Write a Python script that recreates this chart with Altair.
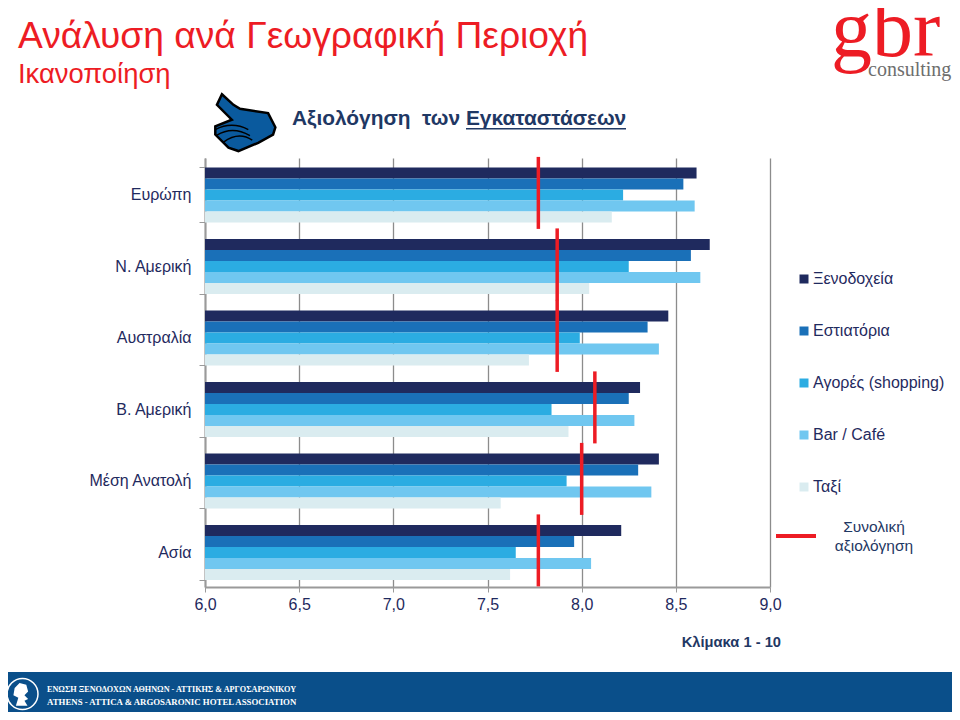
import altair as alt
import pandas as pd

regions = ["Ευρώπη", "Ν. Αμερική", "Αυστραλία", "Β. Αμερική", "Μέση Ανατολή", "Ασία"]
series = ["Ξενοδοχεία", "Εστιατόρια", "Αγορές (shopping)", "Bar / Café", "Ταξί"]
colors = ["#1F2A5E", "#1A70B8", "#2BACE2", "#70C7F0", "#DAECF0"]
hotels = [8.61, 8.68, 8.46, 8.31, 8.41, 8.21]
restaurants = [8.54, 8.58, 8.35, 8.25, 8.30, 7.96]
shopping = [8.22, 8.25, 7.99, 7.84, 7.92, 7.65]
bars = [8.60, 8.63, 8.41, 8.28, 8.37, 8.05]
taxi = [8.16, 8.04, 7.72, 7.93, 7.57, 7.62]
overall = [7.77, 7.87, 7.87, 8.07, 8.00, 7.77]

NAVY = "#1F2A5E"
RED = "#ED1C24"
FONT = "Liberation Sans"
LEFT, TOP, W, H = 205, 158, 565, 429


def X(v):
    return alt.value(v - LEFT)


def Y(v):
    return alt.value(v - TOP)


rows = []
for name, vals in zip(series, [hotels, restaurants, shopping, bars, taxi]):
    for r, v in zip(regions, vals):
        rows.append({"region": r, "series": name, "value": v})
bars_df = pd.DataFrame(rows)
over_df = pd.DataFrame({"region": regions, "value": overall})

x_scale = alt.Scale(domain=[6, 9], nice=False, zero=False)
y_scale = alt.Scale(domain=regions, paddingInner=0.23, paddingOuter=0.115, align=0.57)

bar_chart = alt.Chart(bars_df).mark_bar(size=11).encode(
    x=alt.X("value:Q", stack=None, scale=x_scale, axis=alt.Axis(
        values=[6, 6.5, 7, 7.5, 8, 8.5, 9],
        labelExpr="replace(format(datum.value, '.1f'), '.', ',')",
        labelFlush=False,
        grid=True, gridColor="#8C8C8C", gridWidth=1.3,
        domainColor="#9A9A9A", domainWidth=2, tickColor="#9A9A9A", tickSize=5,
        labelColor=NAVY, labelFont=FONT, labelFontSize=16, labelPadding=4, title=None)),
    x2=alt.X2(datum=6),
    y=alt.Y("region:N", sort=regions, scale=y_scale, axis=alt.Axis(
        tickBand="extent", tickColor="#9A9A9A", tickSize=6, domainColor="#9A9A9A", domainWidth=2,
        labelColor=NAVY, labelFont=FONT, labelFontSize=16, labelPadding=8, title=None, grid=False)),
    yOffset=alt.YOffset("series:N", sort=series, scale=alt.Scale(domain=series, paddingInner=0, paddingOuter=0)),
    color=alt.Color("series:N", sort=series, scale=alt.Scale(domain=series, range=colors), legend=alt.Legend(
        orient="none", legendX=591, legendY=113, padding=0, title=None, symbolType="square", symbolSize=81,
        symbolStrokeWidth=0, labelFont=FONT, labelFontSize=16, labelColor=NAVY, labelOffset=1,
        rowPadding=36, labelLimit=200)),
)

over_chart = alt.Chart(over_df).mark_tick(color=RED, thickness=3.5, size=72, opacity=1, yOffset=-2).encode(
    x=alt.X("value:Q", scale=x_scale),
    y=alt.Y("region:N", sort=regions, scale=y_scale),
)

one = alt.Data(values=[{"a": 1}])


def text(s, x, y, size, color=NAVY, font=FONT, weight="normal", align="left"):
    return alt.Chart(one).mark_text(text=s, font=font, fontSize=size, color=color, fontWeight=weight,
                                    align=align, baseline="alphabetic").encode(x=X(x), y=Y(y))


def rect(x1, x2, y1, y2, color):
    return alt.Chart(one).mark_rect(color=color).encode(x=X(x1), x2=X(x2), y=Y(y1), y2=Y(y2))


hand = ("M-0.70 -0.87 L-0.35 -0.55 L-0.15 -0.43 L0.70 -0.30 L0.92 0.13 L0.85 0.35 L0.40 0.60 "
        "L-0.20 0.85 L-0.50 0.75 L-0.90 0.35 L-0.90 0.10 L-0.40 -0.10 L-0.85 -0.55 Z")
fingers = ("M-0.90 0.20 C-0.55 0.02 -0.25 0.02 0.10 0.20 M-0.85 0.37 C-0.55 0.18 -0.20 0.18 0.15 0.38 "
           "M-0.65 0.58 C-0.35 0.36 -0.05 0.34 0.22 0.52")
helmet = ("M-0.5 0.95 L-0.3 0.3 L-0.7 0.1 L-0.6 -0.5 L-0.2 -0.9 L0.35 -0.75 L0.5 -0.2 L0.2 0.1 "
          "L0.5 0.4 L0.2 0.55 L0.45 0.95 Z")

deco = [
    rect(8, 952, 672, 712, "#0A4F8A"),
    text("Ανάλυση ανά Γεωγραφική Περιοχή", 18, 48, 37.2, RED),
    text("Ικανοποίηση", 18, 83, 27.4, RED),
    alt.Chart(one).mark_point(shape=hand, size=4356, filled=True, fill="#0A5A9E", stroke="#000000",
                              strokeWidth=2.5, opacity=1).encode(x=X(245), y=Y(123)),
    alt.Chart(one).mark_point(shape=fingers, size=4356, filled=False, stroke="#000000",
                              strokeWidth=1.5, opacity=1).encode(x=X(245), y=Y(123)),
    text("Αξιολόγηση\u00a0\u00a0των Εγκαταστάσεων", 292, 125, 20.9, "#1F3864", weight="bold"),
    rect(466, 626, 128, 129.5, "#1F3864"),
    text("gbr", 831, 56, 82, RED, font="Liberation Serif"),
    text("consulting", 868, 76, 20, "#6E6E6E", font="Liberation Serif"),
    text("Κλίμακα 1 - 10", 781, 647, 14.7, "#1F3864", weight="bold", align="right"),
    rect(776, 816, 534, 538, RED),
    text("Συνολική", 874, 532, 15.5, "#1F3864", align="center"),
    text("αξιολόγηση", 874, 551, 15.5, "#1F3864", align="center"),
    alt.Chart(one).mark_point(shape="circle", size=960, filled=False, stroke="#FFFFFF",
                              strokeWidth=1.5, opacity=1).encode(x=X(22.5), y=Y(694)),
    alt.Chart(one).mark_point(shape=helmet, size=600, filled=True, fill="#FFFFFF", opacity=1).encode(x=X(22), y=Y(694)),
    text("ΕΝΩΣΗ ΞΕΝΟΔΟΧΩΝ ΑΘΗΝΩΝ - ΑΤΤΙΚΗΣ & ΑΡΓΟΣΑΡΩΝΙΚΟΥ", 47, 692, 8.2, "#FFFFFF", font="Liberation Serif", weight="bold"),
    text("ATHENS - ATTICA & ARGOSARONIC HOTEL ASSOCIATION", 47, 705, 8.8, "#FFFFFF", font="Liberation Serif", weight="bold"),
]

chart = alt.layer(bar_chart, over_chart, *deco).properties(
    width=W, height=H,
    autosize=alt.AutoSizeParams(type="none"),
    padding={"left": LEFT - 8, "top": TOP - 8, "right": 952 - LEFT - W, "bottom": 712 - TOP - H},
).configure_view(stroke=None)

chart.save("out.html", embed_options={"renderer": "svg", "actions": False})
